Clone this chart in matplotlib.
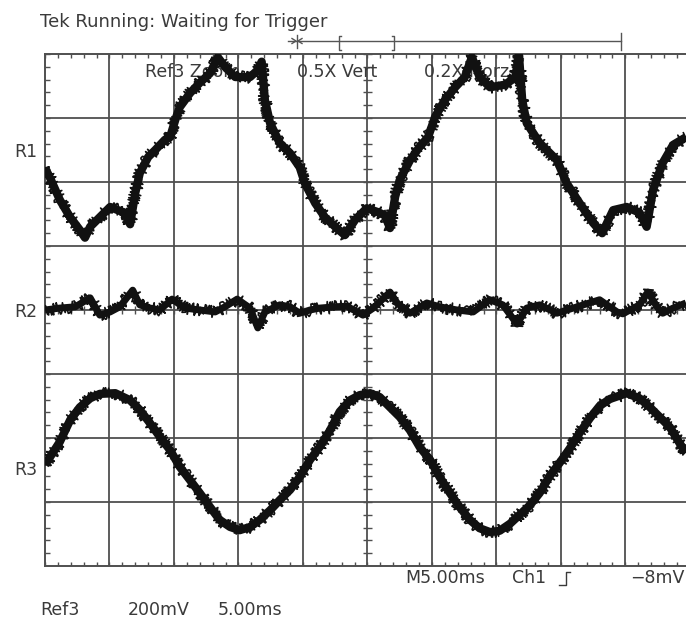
import numpy as np
import matplotlib
matplotlib.use("Agg")
import matplotlib.pyplot as plt

# scope settings (5 ms/div, 10 x 8 divisions)
x_max = 9.94
n_xdiv = 10
n_ydiv = 8

# traces, x and y in divisions
r1_x = [0.00, 0.08, 0.23, 0.39, 0.54, 0.62, 0.70, 0.85, 1.01, 1.13, 1.24, 1.32, 1.40, 1.47,
        1.60, 1.71, 1.86, 1.94, 2.02, 2.09, 2.25, 2.40, 2.56, 2.68, 2.79, 2.95, 3.18, 3.30,
        3.36, 3.41, 3.49, 3.64, 3.80, 3.95, 4.03, 4.19, 4.34, 4.50, 4.65, 4.81, 4.99, 5.16,
        5.27, 5.35, 5.43, 5.50, 5.66, 5.81, 5.94, 6.05, 6.20, 6.36, 6.51, 6.62, 6.74, 6.90,
        7.13, 7.29, 7.35, 7.40, 7.47, 7.67, 7.94, 8.09, 8.29, 8.50, 8.64, 8.81, 9.02, 9.22,
        9.33, 9.43, 9.58, 9.74, 9.94]
r1_y = [2.22, 2.06, 1.72, 1.45, 1.25, 1.13, 1.30, 1.45, 1.61, 1.56, 1.52, 1.34, 1.83, 2.14,
        2.39, 2.50, 2.66, 2.70, 2.97, 3.17, 3.39, 3.55, 3.70, 3.95, 3.80, 3.64, 3.64, 3.75,
        3.88, 3.28, 2.92, 2.61, 2.45, 2.23, 1.98, 1.67, 1.45, 1.30, 1.17, 1.41, 1.59, 1.53,
        1.48, 1.28, 1.77, 2.03, 2.34, 2.55, 2.70, 3.02, 3.28, 3.48, 3.64, 3.95, 3.64, 3.48,
        3.52, 3.63, 3.98, 3.28, 2.92, 2.61, 2.34, 1.98, 1.67, 1.36, 1.20, 1.56, 1.61, 1.52,
        1.30, 1.88, 2.30, 2.58, 2.70]

r2_x = [0.00, 0.23, 0.47, 0.70, 0.85, 1.01, 1.16, 1.36, 1.47, 1.63, 1.78, 1.97, 2.17, 2.40,
        2.64, 2.79, 2.98, 3.18, 3.30, 3.41, 3.64, 3.80, 3.95, 4.11, 4.26, 4.50, 4.68, 4.93,
        5.09, 5.35, 5.46, 5.66, 5.92, 6.12, 6.39, 6.64, 6.90, 7.10, 7.32, 7.47, 7.67, 7.94,
        8.19, 8.60, 8.87, 8.96, 9.22, 9.35, 9.49, 9.58, 9.74, 9.94]
r2_y = [0.00, 0.03, 0.05, 0.19, -0.08, -0.03, 0.05, 0.31, 0.08, 0.03, 0.00, 0.17, 0.03, 0.00,
        -0.03, 0.05, 0.17, 0.03, -0.28, -0.03, 0.08, 0.05, -0.05, 0.00, 0.03, 0.05, 0.06, -0.08,
        0.03, 0.28, 0.11, -0.05, 0.11, 0.05, 0.00, -0.03, 0.16, 0.08, -0.22, 0.03, 0.08, -0.05,
        0.03, 0.16, -0.03, -0.06, 0.08, 0.28, 0.05, -0.05, 0.03, 0.11]

r3_x = [0.00, 0.23, 0.39, 0.54, 0.70, 0.85, 1.09, 1.32, 1.47, 1.63, 1.78, 1.94, 2.09, 2.25,
        2.40, 2.56, 2.71, 2.87, 3.02, 3.18, 3.33, 3.49, 3.64, 3.80, 3.95, 4.11, 4.26, 4.42,
        4.57, 4.73, 4.88, 5.04, 5.19, 5.35, 5.50, 5.66, 5.81, 5.97, 6.12, 6.28, 6.43, 6.59,
        6.74, 6.90, 7.05, 7.21, 7.36, 7.52, 7.67, 7.83, 7.98, 8.14, 8.29, 8.45, 8.60, 8.76,
        9.02, 9.22, 9.38, 9.53, 9.69, 9.84, 9.94]
r3_y = [-2.42, -2.06, -1.72, -1.52, -1.38, -1.31, -1.30, -1.41, -1.56, -1.77, -1.98, -2.19,
        -2.45, -2.66, -2.86, -3.08, -3.28, -3.39, -3.44, -3.39, -3.28, -3.13, -2.97, -2.81,
        -2.61, -2.34, -2.14, -1.88, -1.59, -1.41, -1.33, -1.30, -1.36, -1.52, -1.67, -1.88,
        -2.14, -2.34, -2.61, -2.86, -3.08, -3.28, -3.41, -3.47, -3.45, -3.34, -3.20, -3.05,
        -2.86, -2.59, -2.39, -2.16, -1.92, -1.69, -1.50, -1.39, -1.30, -1.38, -1.52, -1.67,
        -1.83, -2.08, -2.23]

# reference marker levels and names
ref_names = ["R1", "R2", "R3"]
ref_levels = [2.47, -0.03, -2.50]

grid_col = "#4f4f4f"
text_col = "#3a3a3a"
trace_col = "#111111"
fs = 12.5

W, H = 686, 628
fig = plt.figure(figsize=(W / 100, H / 100), dpi=100)

# screen area in pixels
left_px, top_px, bottom_px = 45, 54, 566
ax = fig.add_axes([left_px / W, 1 - bottom_px / H, (W - left_px) / W, (bottom_px - top_px) / H])
ax.set_xlim(0, x_max)
ax.set_ylim(-n_ydiv / 2, n_ydiv / 2)
ax.set_xticks([])
ax.set_yticks([])
for side in ["top", "bottom", "left"]:
    ax.spines[side].set_color(grid_col)
    ax.spines[side].set_linewidth(1.4)
ax.spines["right"].set_visible(False)

# graticule
for i in range(1, n_xdiv):
    ax.axvline(i, color=grid_col, lw=1.3, zorder=1)
for j in range(1, n_ydiv):
    ax.axhline(j - n_ydiv / 2, color=grid_col, lw=1.3, zorder=1)

# minor ticks on the border and the centre cross
xs = np.arange(0, x_max, 0.2)
ys = np.arange(-4, 4.01, 0.2)
tk = 0.07
ax.vlines(xs, 4 - tk, 4, color=grid_col, lw=1.0, zorder=1)
ax.vlines(xs, -4, -4 + tk, color=grid_col, lw=1.0, zorder=1)
ax.vlines(xs, -tk, tk, color=grid_col, lw=1.0, zorder=1)
ax.hlines(ys, 0, tk, color=grid_col, lw=1.0, zorder=1)
ax.hlines(ys, 5 - tk, 5 + tk, color=grid_col, lw=1.0, zorder=1)

# labels drawn on the screen (partly covered by trace)
ax.text(1.55, 3.72, "Ref3 Zoom", fontsize=fs, color=text_col, va="center", zorder=2)
ax.text(3.91, 3.72, "0.5X Vert", fontsize=fs, color=text_col, va="center", zorder=2)
ax.text(5.88, 3.72, "0.2X Horz", fontsize=fs, color=text_col, va="center", zorder=2)

# traces: thick body plus jittered edges for the noisy look
for tx, ty, lw in [(r1_x, r1_y, 6.0), (r2_x, r2_y, 5.0), (r3_x, r3_y, 6.0)]:
    ax.plot(tx, ty, color=trace_col, lw=lw, solid_capstyle="butt",
            solid_joinstyle="round", zorder=3)
    fuzz, = ax.plot(tx, ty, color=trace_col, lw=1.2, zorder=3)
    fuzz.set_sketch_params(scale=6, length=0.8, randomness=2)

# overlay in pixel coordinates for the surrounding readout
ov = fig.add_axes([0, 0, 1, 1], facecolor="none")
ov.set_xlim(0, W)
ov.set_ylim(H, 0)
ov.axis("off")

ov.text(40, 22, "Tek Running: Waiting for Trigger", fontsize=fs + 0.5, color=text_col, va="center")
for name, lvl in zip(ref_names, ref_levels):
    ov.text(14, 310 - lvl * 64, name, fontsize=fs, color=text_col, va="center")

# trigger / record bar
bar_col = "#555555"
ov.plot([288, 621], [41, 41], color=bar_col, lw=1.0)
ov.plot([621, 621], [33, 50], color=bar_col, lw=1.0)
ov.plot([341, 339, 339, 341], [36, 36, 50, 50], color=bar_col, lw=1.0)
ov.plot([392, 394, 394, 392], [36, 36, 50, 50], color=bar_col, lw=1.0)
ov.plot([297, 297], [35, 48], color=bar_col, lw=1.0)
ov.plot([292, 296, 292], [38.5, 41, 43.5], color=bar_col, lw=1.0)
ov.plot([302, 298, 302], [38.5, 41, 43.5], color=bar_col, lw=1.0)

# bottom readout
ov.text(405, 578, "M5.00ms", fontsize=fs, color=text_col, va="center")
ov.text(512, 578, "Ch1", fontsize=fs, color=text_col, va="center")
ov.plot([559, 562, 566, 566, 570], [585, 585, 585, 572, 572], color=text_col, lw=1.0)
ov.text(684, 578, "\u22128mV", fontsize=fs, color=text_col, va="center", ha="right")
ov.text(40, 610, "Ref3", fontsize=fs, color=text_col, va="center")
ov.text(128, 610, "200mV", fontsize=fs, color=text_col, va="center")
ov.text(218, 610, "5.00ms", fontsize=fs, color=text_col, va="center")

fig.savefig("out.png", dpi=100)
